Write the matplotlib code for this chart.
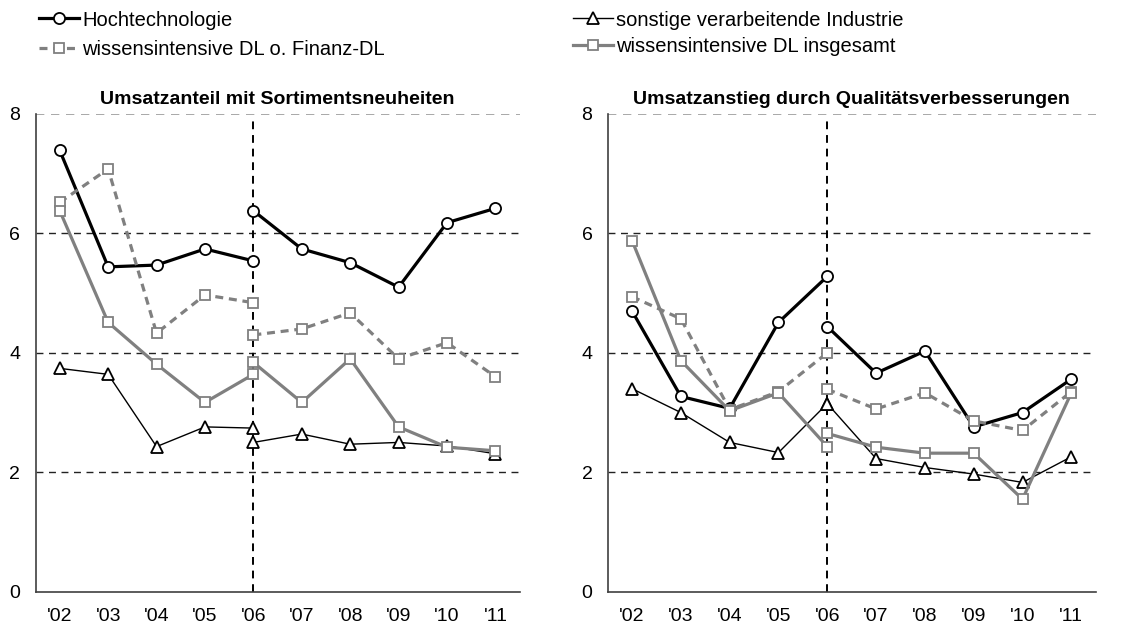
import numpy as np
import matplotlib
matplotlib.use("Agg")
import matplotlib.pyplot as plt
from matplotlib.lines import Line2D

plt.rcParams['font.family'] = ['Liberation Sans', 'DejaVu Sans']

# Jahre (x-Achse); '06 kommt doppelt vor (Bruch in der Zeitreihe)
years = ["'02", "'03", "'04", "'05", "'06", "'07", "'08", "'09", "'10", "'11"]

# Werte: erste 5 = '02-'06 (alt), letzte 6 = '06-'11 (neu)
# Umsatzanteil mit Sortimentsneuheiten
hoch_l = [7.39, 5.44, 5.47, 5.74, 5.54, 6.38, 5.74, 5.51, 5.10, 6.18, 6.42]
sonst_l = [3.74, 3.64, 2.43, 2.76, 2.74, 2.50, 2.64, 2.47, 2.50, 2.44, 2.31]
dlof_l = [6.52, 7.08, 4.33, 4.97, 4.84, 4.30, 4.40, 4.67, 3.90, 4.17, 3.60]
dlins_l = [6.38, 4.51, 3.81, 3.17, 3.64, 3.84, 3.17, 3.90, 2.76, 2.42, 2.36]

# Umsatzanstieg durch Qualitätsverbesserungen
hoch_r = [4.70, 3.27, 3.07, 4.51, 5.28, 4.44, 3.66, 4.03, 2.76, 3.00, 3.56]
sonst_r = [3.40, 3.00, 2.50, 2.33, 3.15, 3.15, 2.23, 2.08, 1.97, 1.83, 2.26]
dlof_r = [4.94, 4.57, 3.05, 3.35, 4.00, 3.39, 3.06, 3.33, 2.86, 2.70, 3.35]
dlins_r = [5.88, 3.87, 3.03, 3.33, 2.43, 2.65, 2.42, 2.32, 2.32, 1.55, 3.33]

labels = ["Hochtechnologie", "sonstige verarbeitende Industrie",
          "wissensintensive DL o. Finanz-DL", "wissensintensive DL insgesamt"]
titles = ["Umsatzanteil mit Sortimentsneuheiten",
          "Umsatzanstieg durch Qualitätsverbesserungen"]

gray = '#808080'
styles = [
    dict(color='black', lw=2.3, ls='-', marker='o', ms=8, mfc='white', mec='black', mew=1.3),
    dict(color='black', lw=1.0, ls='-', marker='^', ms=9, mfc='white', mec='black', mew=1.3),
    dict(color=gray, lw=2.3, ls=(0, (2.5, 1.8)), marker='s', ms=7.5, mfc='white', mec=gray, mew=1.3),
    dict(color=gray, lw=2.3, ls='-', marker='s', ms=7.5, mfc='white', mec=gray, mew=1.3),
]

fig = plt.figure(figsize=(11.39, 6.34), dpi=100)
ax_l = fig.add_axes([0.0312, 0.0667, 0.425, 0.7535])
ax_r = fig.add_axes([0.5335, 0.0667, 0.4285, 0.7535])

x_old = np.arange(0, 5)
x_new = np.arange(4, 10)

for ax, data, title in [(ax_l, [hoch_l, sonst_l, dlof_l, dlins_l], titles[0]),
                        (ax_r, [hoch_r, sonst_r, dlof_r, dlins_r], titles[1])]:
    for yy in [2, 4, 6]:
        ax.axhline(yy, color='#222222', lw=1.0, ls=(0, (5, 4)), zorder=1)
    ax.axhline(8, color='#999999', lw=1.2, ls=(0, (5, 4)), zorder=1)
    ax.axvline(4, ymin=0, ymax=0.985, color='black', lw=1.4, ls=(0, (4, 3)), zorder=1)
    for vals, st, z in zip(data, styles, [4, 3, 5, 6]):
        ax.plot(x_old, vals[:5], zorder=z, **st)
        ax.plot(x_new, vals[5:], zorder=z, **st)
    ax.set_xlim(-0.5, 9.5)
    ax.set_ylim(0, 8)
    ax.set_yticks([0, 2, 4, 6, 8])
    ax.set_xticks(range(10))
    ax.set_xticklabels(years)
    ax.tick_params(axis='both', length=0, labelsize=14)
    ax.tick_params(axis='x', pad=12)
    ax.tick_params(axis='y', pad=11)
    for s in ['top', 'right']:
        ax.spines[s].set_visible(False)
    ax.spines['left'].set_color('#404040')
    ax.spines['bottom'].set_color('#404040')
    ax.spines['left'].set_linewidth(1.2)
    ax.spines['bottom'].set_linewidth(1.2)
    ax.set_title(title, fontsize=14, fontweight='bold', pad=7)

handles = []
for st in styles:
    handles.append(Line2D([], [], **st))

leg1 = fig.legend([handles[0], handles[2]], [labels[0], labels[2]],
                  loc='upper left', bbox_to_anchor=(0.0185, 1.012), frameon=False,
                  fontsize=14.5, handlelength=2.0, handletextpad=0.15, labelspacing=0.5)
leg2 = fig.legend([handles[1], handles[3]], [labels[1], labels[3]],
                  loc='upper left', bbox_to_anchor=(0.487, 1.012), frameon=False,
                  fontsize=14.5, handlelength=2.0, handletextpad=0.15, labelspacing=0.35)

fig.savefig("out.png", dpi=100)
